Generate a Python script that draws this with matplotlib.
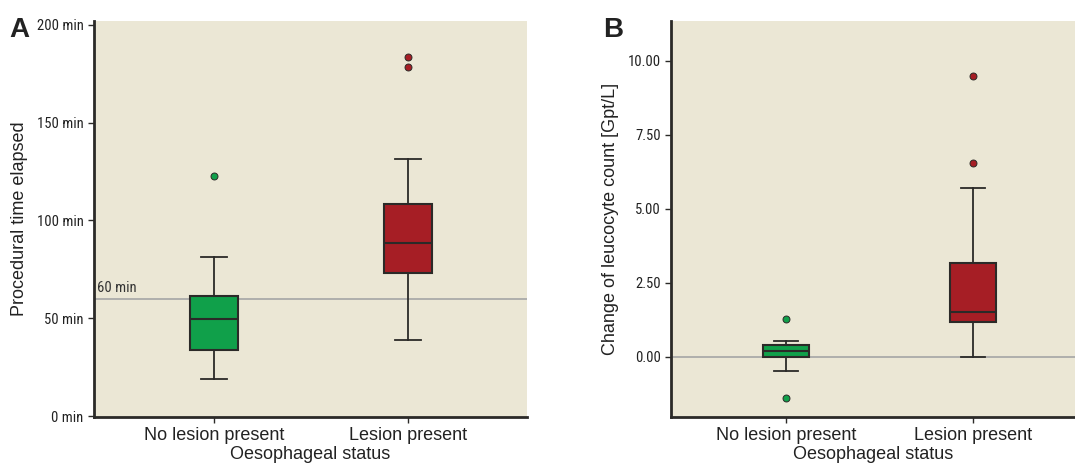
import matplotlib
matplotlib.use("Agg")
import matplotlib.pyplot as plt

groups = ["No lesion present", "Lesion present"]
colors = ["#10a04a", "#a61e25"]

# panel A: procedural time (min)
time_whislo = [19, 39]
time_q1 = [34, 73]
time_med = [49.5, 88.5]
time_q3 = [61.5, 108.5]
time_whishi = [81.5, 131.5]
time_fliers = [[122.5], [178.5, 183.5]]

# panel B: change of leucocyte count (Gpt/L)
leuco_whislo = [-0.47, 0.0]
leuco_q1 = [0.0, 1.18]
leuco_med = [0.2, 1.52]
leuco_q3 = [0.4, 3.18]
leuco_whishi = [0.54, 5.71]
leuco_fliers = [[1.28, -1.39], [6.55, 9.49]]

bg = "#ebe7d5"
dark = "#2b2a28"
tick_font = ["Roboto Condensed", "DejaVu Sans"]
label_font = ["Liberation Sans", "DejaVu Sans"]


def make_stats(lo, q1, med, q3, hi, fl):
    out = []
    for i in range(len(lo)):
        out.append(dict(whislo=lo[i], q1=q1[i], med=med[i], q3=q3[i],
                        whishi=hi[i], fliers=fl[i]))
    return out


def draw(ax, stats):
    bp = ax.bxp(stats, positions=[0, 1], widths=0.25, patch_artist=True,
                capwidths=0.13,
                boxprops=dict(edgecolor=dark, linewidth=1.5),
                medianprops=dict(color=dark, linewidth=1.5),
                whiskerprops=dict(color=dark, linewidth=1.3),
                capprops=dict(color=dark, linewidth=1.3),
                flierprops=dict(marker="o", markersize=5,
                                markeredgecolor=dark, markeredgewidth=0.7))
    for patch, c in zip(bp["boxes"], colors):
        patch.set_facecolor(c)
    for fl, c in zip(bp["fliers"], colors):
        fl.set_markerfacecolor(c)
    ax.set_facecolor(bg)
    for s in ["top", "right"]:
        ax.spines[s].set_visible(False)
    for s in ["left", "bottom"]:
        ax.spines[s].set_linewidth(2)
        ax.spines[s].set_color(dark)
    ax.tick_params(axis="both", direction="out", length=4, width=1,
                   color=dark)
    ax.set_xticks([0, 1])
    ax.set_xticklabels(groups, fontsize=13, family=label_font, color="#222222")
    ax.set_xlabel("Oesophageal status", fontsize=13, family=label_font,
                  color="#222222", labelpad=1)


fig = plt.figure(figsize=(10.75, 4.67), dpi=100)

axA = fig.add_axes([0.0874, 0.107, 0.4028, 0.848])
axA.axhline(60, color="#a5a5a5", linewidth=1.2, zorder=1)
draw(axA, make_stats(time_whislo, time_q1, time_med, time_q3, time_whishi, time_fliers))
axA.set_xlim(-0.619, 1.613)
axA.set_ylim(-0.5, 202)
axA.set_yticks([0, 50, 100, 150, 200])
axA.set_yticklabels(["0 min", "50 min", "100 min", "150 min", "200 min"],
                    family=tick_font, fontsize=10.5, color="#222222")
axA.text(-0.605, 62, "60 min", family=tick_font, fontsize=10.5,
         color="#333333", va="bottom", ha="left")
axA.set_ylabel("Procedural time elapsed", fontsize=13, family=label_font,
               color="#222222", labelpad=6)
fig.text(0.009, 0.92, "A", fontsize=20, fontweight="bold",
         family=label_font, color="#222222")

axB = fig.add_axes([0.6242, 0.107, 0.3758, 0.848])
axB.axhline(0, color="#a5a5a5", linewidth=1.2, zorder=1)
draw(axB, make_stats(leuco_whislo, leuco_q1, leuco_med, leuco_q3, leuco_whishi, leuco_fliers))
axB.set_xlim(-0.615, 1.545)
axB.set_ylim(-2.03, 11.35)
axB.set_yticks([0, 2.5, 5, 7.5, 10])
axB.set_yticklabels(["0.00", "2.50", "5.00", "7.50", "10.00"],
                    family=tick_font, fontsize=10.5, color="#222222")
axB.set_ylabel("Change of leucocyte count [Gpt/L]", fontsize=13,
               family=label_font, color="#222222", labelpad=6)
fig.text(0.561, 0.92, "B", fontsize=20, fontweight="bold",
         family=label_font, color="#222222")

fig.savefig("out.png", dpi=100)
